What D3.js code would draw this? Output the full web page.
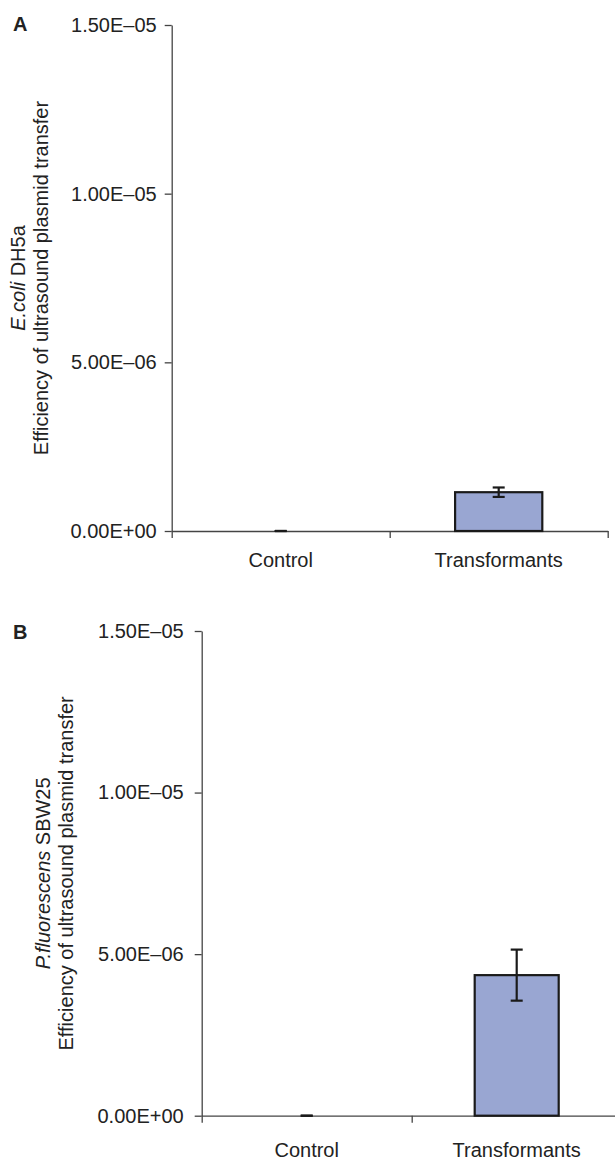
<html>
<head>
<script src="https://d3js.org/d3.v7.min.js"></script>
<style>
  body { margin: 0; background: #fff; }
  text { font-family: "Liberation Sans", Arial, sans-serif; fill: #222; }
</style>
</head>
<body>
<script>
// values
const categories = ["Control", "Transformants"];
const ecoliValues = [0, 1.15e-6];
const ecoliErrors = [0, 0.14e-6];
const pfluValues = [0, 4.35e-6];
const pfluErrors = [0, 0.79e-6];
const yTicks = [0, 5e-6, 1e-5, 1.5e-5];
const yTickLabels = ["0.00E+00", "5.00E\u201306", "1.00E\u201305", "1.50E\u201305"];

const W = 615, H = 1160;
const svg = d3.select("body").append("svg").attr("width", W).attr("height", H);

const panels = [
  { tag: "A", values: ecoliValues, errors: ecoliErrors,
    species: "E.coli", strain: " DH5a",
    left: 171.7, right: 607.7, top: 25, bottom: 531,
    tickPad: 8, labelPad: 22, titleX: [25, 48], tagY: 31 },
  { tag: "B", values: pfluValues, errors: pfluErrors,
    species: "P.fluorescens", strain: " SBW25",
    left: 201.7, right: 621.7, top: 631, bottom: 1115.7,
    tickPad: 11, labelPad: 27, titleX: [50, 73], tagY: 639 }
];

panels.forEach(function (p) {
  const g = svg.append("g");
  const data = categories.map((c, i) => ({ cat: c, value: p.values[i], err: p.errors[i] }));

  const x = d3.scaleBand().domain(categories).range([p.left, p.right]).padding(0);
  const xEdges = d3.scaleLinear().domain([0, categories.length]).range([p.left, p.right]);
  const y = d3.scaleLinear().domain([0, 1.5e-5]).range([p.bottom, p.top]);

  // y axis
  const yAxis = g.append("g")
    .attr("transform", "translate(" + p.left + ",0)")
    .call(d3.axisLeft(y).tickValues(yTicks)
      .tickFormat((d, i) => yTickLabels[i])
      .tickSize(7).tickSizeOuter(0).tickPadding(p.tickPad));
  yAxis.selectAll("text").style("font-size", "20px").style("font-family", null);

  // x axis line with ticks on category boundaries
  g.append("g")
    .attr("transform", "translate(0," + p.bottom + ")")
    .call(d3.axisBottom(xEdges).tickValues([0, 1, 2]).tickFormat("").tickSize(7).tickSizeOuter(0));

  // category labels
  const xLab = g.append("g")
    .attr("transform", "translate(0," + p.bottom + ")")
    .call(d3.axisBottom(x).tickSize(0).tickPadding(p.labelPad));
  xLab.select(".domain").remove();
  xLab.selectAll("text").style("font-size", "20px").style("font-family", null);

  g.selectAll(".domain, .tick line").attr("stroke", "#444").attr("stroke-width", 1.3);

  // bars
  const bw = x.bandwidth() * 0.4;
  g.selectAll("rect.bar").data(data.filter(d => d.value > 0)).enter().append("rect")
    .attr("class", "bar")
    .attr("x", d => x(d.cat) + (x.bandwidth() - bw) / 2)
    .attr("y", d => y(d.value))
    .attr("width", bw)
    .attr("height", d => y(0) - y(d.value))
    .attr("fill", "#99a6d2")
    .attr("stroke", "#1a1a1a")
    .attr("stroke-width", 2.2);

  // error bars
  const cap = 6;
  const eb = g.selectAll("g.err").data(data).enter().append("g").attr("class", "err")
    .attr("stroke", "#1a1a1a").attr("stroke-width", 2.2);
  eb.append("line")
    .attr("x1", d => x(d.cat) + x.bandwidth() / 2)
    .attr("x2", d => x(d.cat) + x.bandwidth() / 2)
    .attr("y1", d => y(d.value + d.err))
    .attr("y2", d => y(d.value - d.err));
  eb.append("line")
    .attr("x1", d => x(d.cat) + x.bandwidth() / 2 - cap)
    .attr("x2", d => x(d.cat) + x.bandwidth() / 2 + cap)
    .attr("y1", d => y(d.value + d.err))
    .attr("y2", d => y(d.value + d.err));
  eb.append("line")
    .attr("x1", d => x(d.cat) + x.bandwidth() / 2 - cap)
    .attr("x2", d => x(d.cat) + x.bandwidth() / 2 + cap)
    .attr("y1", d => y(d.value - d.err))
    .attr("y2", d => y(d.value - d.err));

  // y title, two lines
  const cy = (p.top + p.bottom) / 2;
  const t1 = g.append("text")
    .attr("transform", "translate(" + p.titleX[0] + "," + cy + ") rotate(-90)")
    .attr("text-anchor", "middle").style("font-size", "20px");
  t1.append("tspan").style("font-style", "italic").text(p.species);
  t1.append("tspan").text(p.strain);
  g.append("text")
    .attr("transform", "translate(" + p.titleX[1] + "," + cy + ") rotate(-90)")
    .attr("text-anchor", "middle").style("font-size", "20px")
    .text("Efficiency of ultrasound plasmid transfer");

  // panel tag
  g.append("text").attr("x", 13).attr("y", p.tagY)
    .style("font-size", "20px").style("font-weight", "bold").text(p.tag);
});
</script>
</body>
</html>
